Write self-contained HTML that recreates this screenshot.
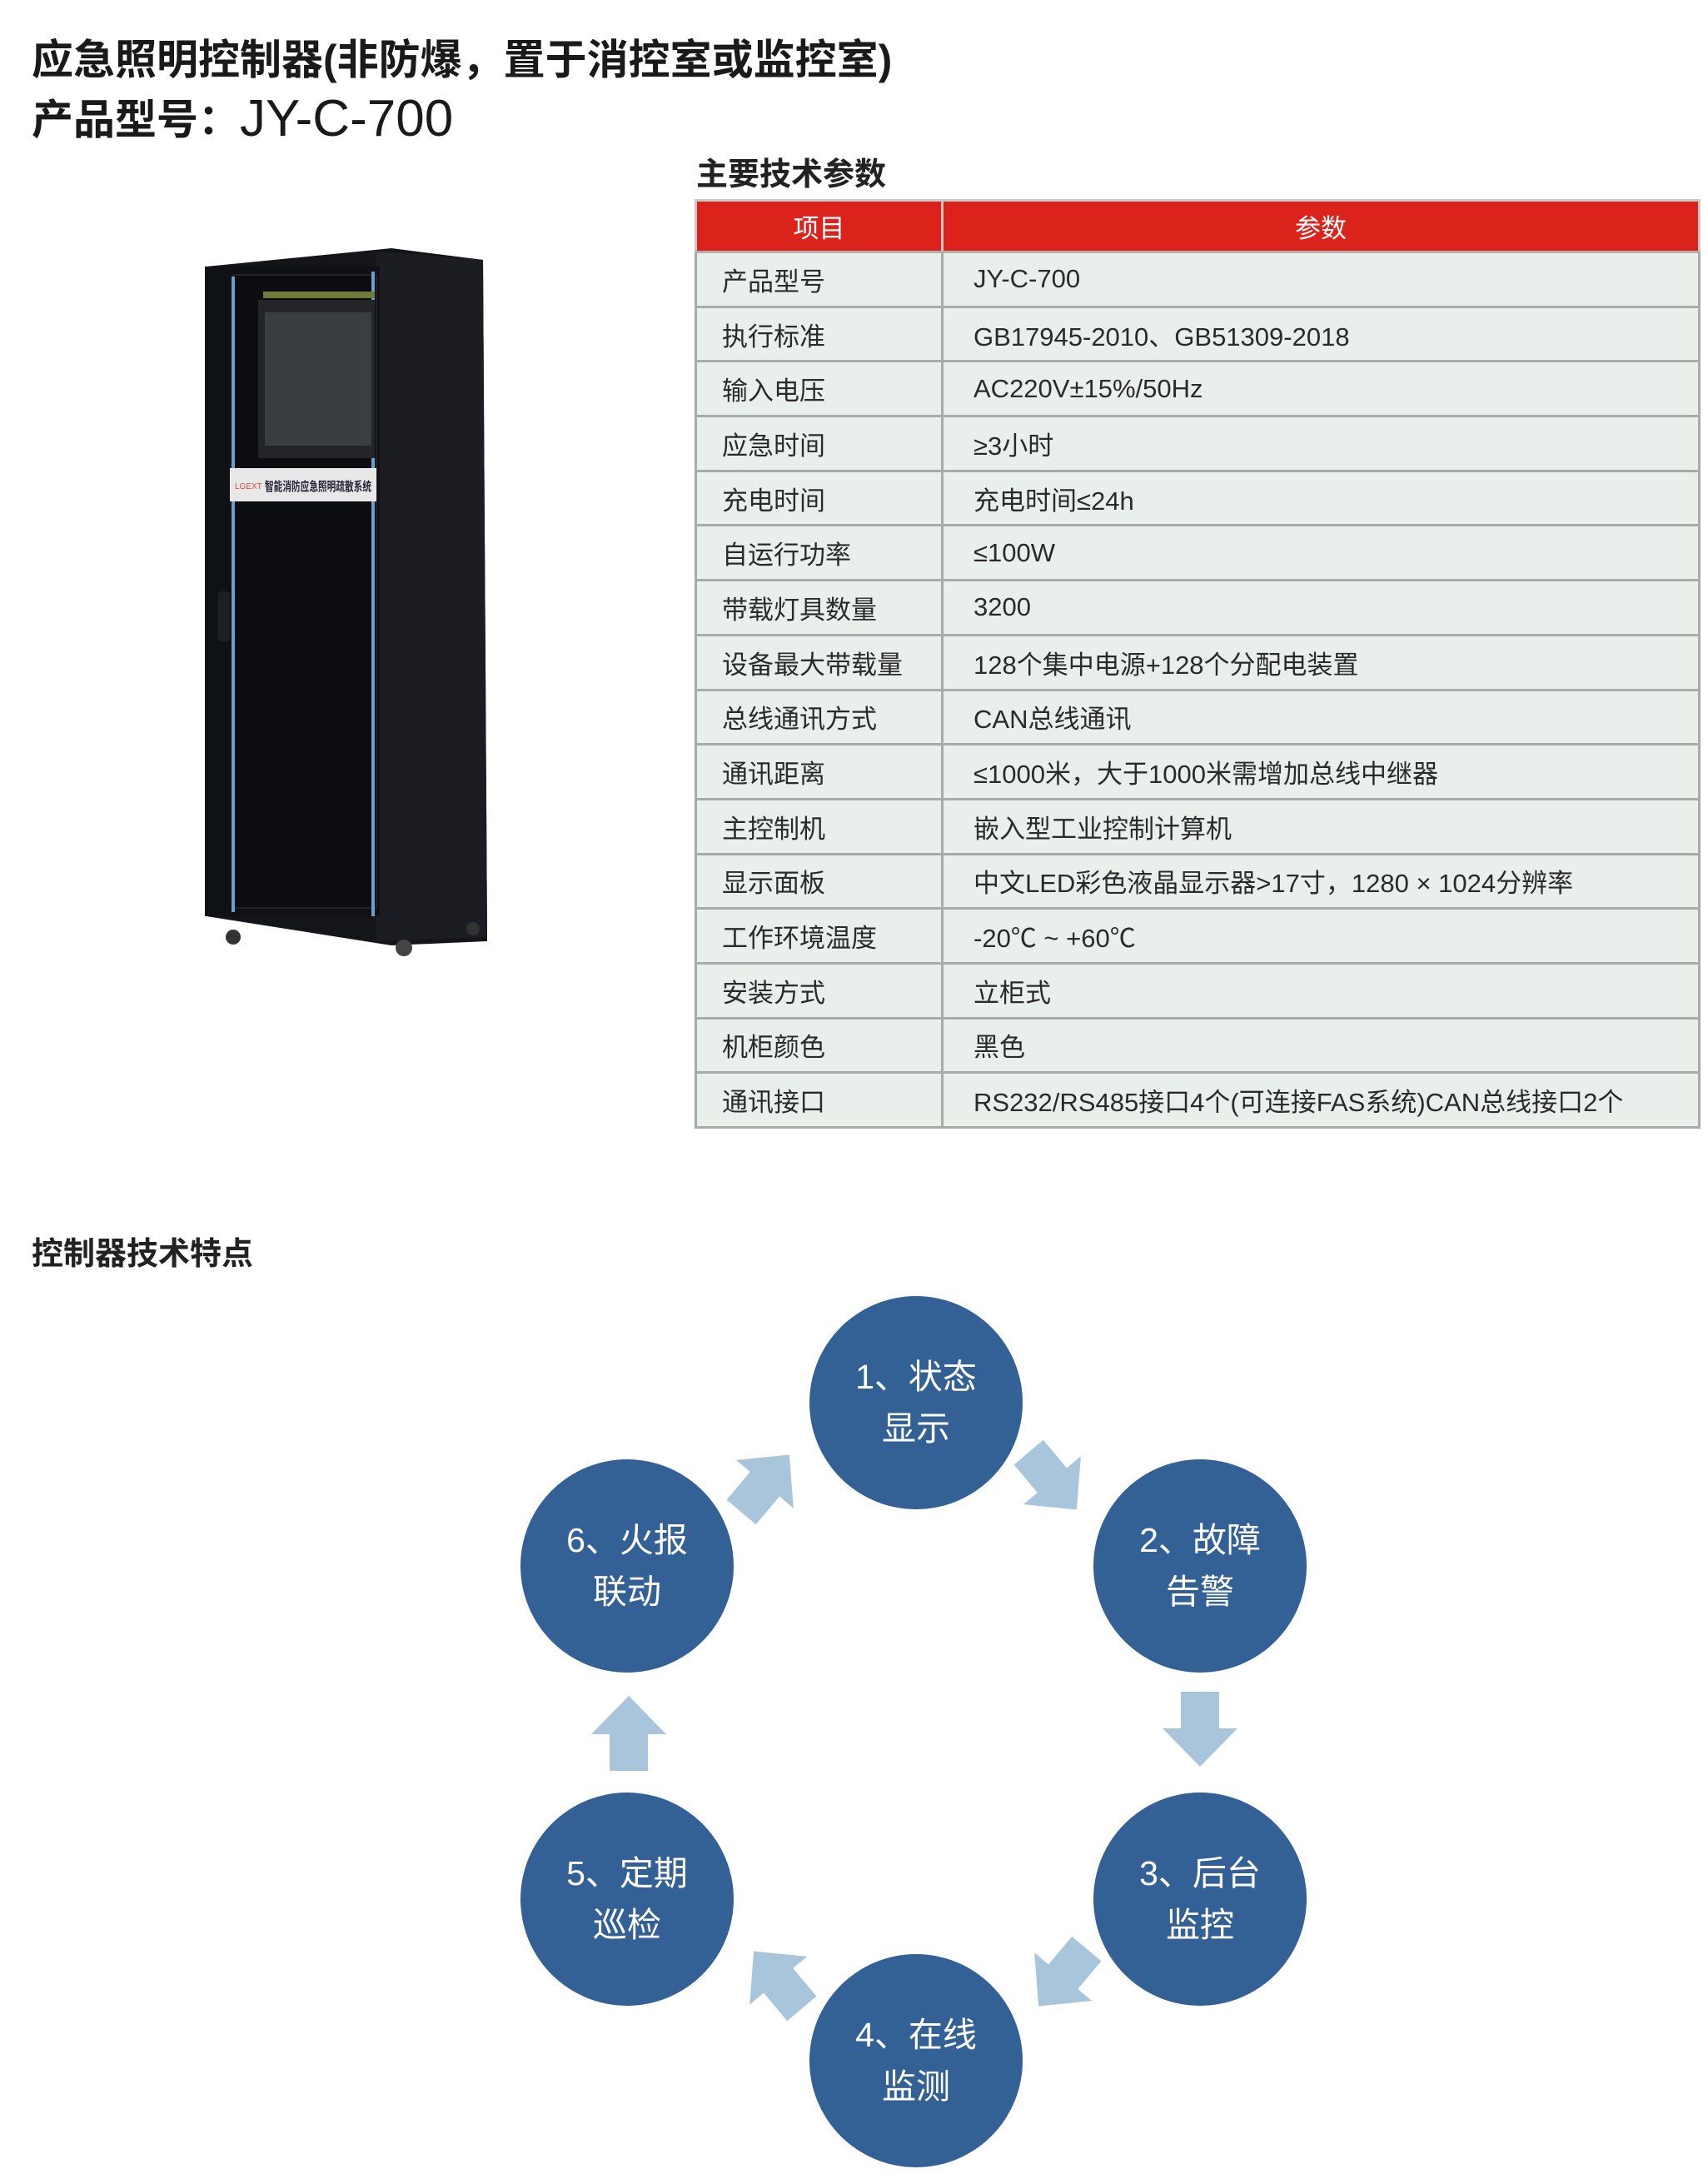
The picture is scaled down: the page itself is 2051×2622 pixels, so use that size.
<!DOCTYPE html>
<html><head><meta charset="utf-8"><style>
*{margin:0;padding:0;box-sizing:border-box}
body{width:2051px;height:2622px;background:#fff;position:relative;overflow:hidden;font-family:"Liberation Sans","Noto Sans CJK SC",sans-serif;color:#222}
.t{position:absolute;white-space:nowrap}
.h1{font-size:50px;font-weight:bold;color:#1a1a1a}
table{position:absolute;left:834px;top:239px;width:1208px;border-collapse:collapse}
td{border:3px solid #a8aca9;height:65.7px;font-size:31px;background:#e9f0ec;color:#2a2a2a;vertical-align:middle}
td.a{width:296px;padding-left:30px}
td.b{padding-left:36px}
th{background:#db221b;color:#fff;font-weight:normal;font-size:31px;height:62px;border:3px solid #c9c9c9;border-bottom:3px solid #b0b0b0}
.c{position:absolute;width:256px;height:256px;border-radius:50%;background:#336195;color:#fff;font-size:41px;text-align:center;display:flex;align-items:center;justify-content:center;line-height:62px}
.ar{position:absolute;width:90px;height:90px}
</style></head><body>
<div class="t h1" style="left:38px;top:32px">应急照明控制器(非防爆，置于消控室或监控室)</div>
<div class="t h1" style="left:38px;top:104px">产品型号：<span style="font-weight:normal;font-size:62px;position:relative;top:2px">JY-C-700</span></div>
<div class="t" style="left:836px;top:178px;font-size:38px;font-weight:bold">主要技术参数</div>

<svg style="position:absolute;left:240px;top:290px" width="360" height="880" viewBox="0 0 360 880">
<polygon points="8,30 230,8 340,22 345,840 230,845 8,810" fill="#141519"/>
<polygon points="212,12 340,22 345,835 212,840" fill="#1c1d22"/>
<rect x="6" y="30" width="210" height="780" fill="#101114"/>
<rect x="40" y="40" width="172" height="760" fill="#0c0d10" stroke="#222" stroke-width="2"/>
<line x1="40" y1="42" x2="40" y2="805" stroke="#6a9fd0" stroke-width="4"/>
<line x1="208" y1="36" x2="208" y2="810" stroke="#6a9fd0" stroke-width="4"/>
<rect x="70" y="70" width="140" height="190" fill="#23252a"/>
<rect x="78" y="85" width="128" height="160" fill="#3a3d42"/>
<rect x="76" y="60" width="134" height="8" fill="#6e7a3a"/>
<rect x="36" y="272" width="176" height="40" fill="#e8e8e8"/>
<text x="42" y="297" font-size="10" fill="#d44" font-family="Liberation Sans">LGEXT</text>
<text x="78" y="299" font-size="15" fill="#223" font-weight="bold" font-family="Noto Sans CJK SC" textLength="128" lengthAdjust="spacingAndGlyphs">智能消防应急照明疏散系统</text>
<rect x="22" y="420" width="14" height="60" rx="4" fill="#1e1f23"/>
<circle cx="40" cy="835" r="9" fill="#333"/><circle cx="245" cy="848" r="10" fill="#444"/><circle cx="328" cy="825" r="8" fill="#333"/>
</svg>

<table>
<tr><th style="width:296px">项目</th><th>参数</th></tr>
<tr><td class="a">产品型号</td><td class="b">JY-C-700</td></tr>
<tr><td class="a">执行标准</td><td class="b">GB17945-2010、GB51309-2018</td></tr>
<tr><td class="a">输入电压</td><td class="b">AC220V±15%/50Hz</td></tr>
<tr><td class="a">应急时间</td><td class="b">≥3小时</td></tr>
<tr><td class="a">充电时间</td><td class="b">充电时间≤24h</td></tr>
<tr><td class="a">自运行功率</td><td class="b">≤100W</td></tr>
<tr><td class="a">带载灯具数量</td><td class="b">3200</td></tr>
<tr><td class="a">设备最大带载量</td><td class="b">128个集中电源+128个分配电装置</td></tr>
<tr><td class="a">总线通讯方式</td><td class="b">CAN总线通讯</td></tr>
<tr><td class="a">通讯距离</td><td class="b">≤1000米，大于1000米需增加总线中继器</td></tr>
<tr><td class="a">主控制机</td><td class="b">嵌入型工业控制计算机</td></tr>
<tr><td class="a">显示面板</td><td class="b">中文LED彩色液晶显示器&gt;17寸，1280 × 1024分辨率</td></tr>
<tr><td class="a">工作环境温度</td><td class="b">-20℃ ~ +60℃</td></tr>
<tr><td class="a">安装方式</td><td class="b">立柜式</td></tr>
<tr><td class="a">机柜颜色</td><td class="b">黑色</td></tr>
<tr><td class="a">通讯接口</td><td class="b">RS232/RS485接口4个(可连接FAS系统)CAN总线接口2个</td></tr>
</table>

<div class="t" style="left:38px;top:1474px;font-size:38px;font-weight:bold">控制器技术特点</div>

<div class="c" style="left:972px;top:1556px">1、状态<br>显示</div>
<div class="c" style="left:1313px;top:1752px">2、故障<br>告警</div>
<div class="c" style="left:1313px;top:2152px">3、后台<br>监控</div>
<div class="c" style="left:972px;top:2346px">4、在线<br>监测</div>
<div class="c" style="left:625px;top:2152px">5、定期<br>巡检</div>
<div class="c" style="left:625px;top:1752px">6、火报<br>联动</div>

<svg width="0" height="0" style="position:absolute"><defs><polygon id="da" points="22,0 68,0 68,44 90,44 45,90 0,44 22,44" fill="#a8c5dc"/></defs></svg>
<svg class="ar" style="left:1219px;top:1733px;transform:rotate(-40deg)" viewBox="0 0 90 90"><use href="#da"/></svg>
<svg class="ar" style="left:1396px;top:2031px" viewBox="0 0 90 90"><use href="#da"/></svg>
<svg class="ar" style="left:1231px;top:2329px;transform:rotate(40deg)" viewBox="0 0 90 90"><use href="#da"/></svg>
<svg class="ar" style="left:889px;top:2332px;transform:rotate(140deg)" viewBox="0 0 90 90"><use href="#da"/></svg>
<svg class="ar" style="left:710px;top:2036px;transform:rotate(180deg)" viewBox="0 0 90 90"><use href="#da"/></svg>
<svg class="ar" style="left:874px;top:1736px;transform:rotate(-140deg)" viewBox="0 0 90 90"><use href="#da"/></svg>
</body></html>
